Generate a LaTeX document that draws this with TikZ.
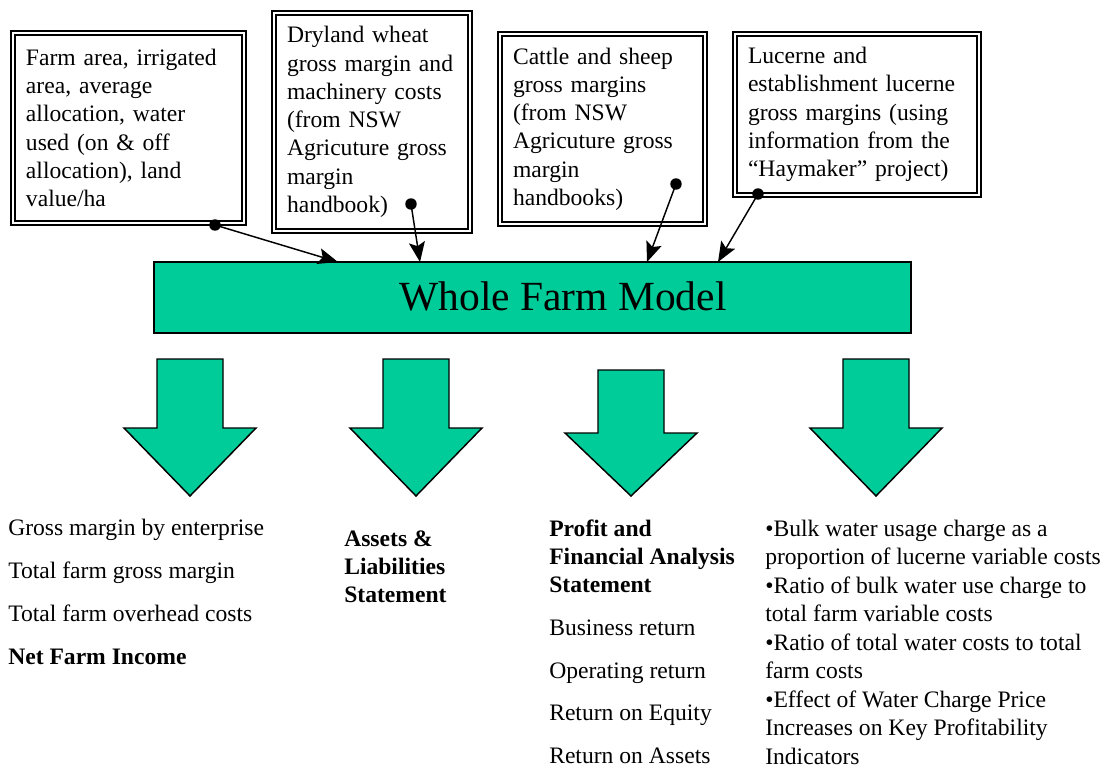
\documentclass[tikz,border=0pt]{standalone}
\usepackage{fontspec}
\setmainfont{Liberation Serif}
\usetikzlibrary{arrows.meta}
\definecolor{modelgreen}{RGB}{0,204,153}

\tikzset{
  txt/.style={font=\fontsize{17.7pt}{21.2pt}\selectfont},
  srcbox/.style={txt, draw=black, line width=1.05pt, double=white,
    double distance=1.7pt, fill=white, align=left,
    inner xsep=9.75pt, inner ysep=0pt},
  modelbox/.style={draw=black, line width=1.1pt, fill=modelgreen,
    inner sep=0pt},
  feed/.style={line width=1.1pt,
    -{Stealth[length=15pt,width=12pt,inset=3pt]}},
  dot/.style={fill=black},
  bigarrow/.style={draw=black, line width=1.1pt, fill=modelgreen,
    line join=miter},
  outtext/.style={txt, anchor=base west, inner sep=0pt},
  pics/fatdown/.style 2 args={code={
    \path[bigarrow] (-33,0) -- (33,0) -- (33,#1) -- (66,#1) -- (0,#2)
      -- (-66,#1) -- (-33,#1) -- cycle;}}
}

\begin{document}
\begin{tikzpicture}[x=0.75pt,y=-0.75pt]
\useasboundingbox (0,0) rectangle (1105,767);

% input boxes
\node[srcbox, minimum width=173.25pt, minimum height=142.5pt,
  text width=153.75pt] (src1) at (128.5,128)
  {Farm area, irrigated\\area, average\\allocation, water\\used (on \& off\\allocation), land\\value/ha};
\node[srcbox, minimum width=147pt, minimum height=163.5pt,
  text width=127.5pt] (src2) at (372,122)
  {Dryland wheat\\gross margin and\\machinery costs\\(from NSW\\Agricuture gross\\margin\\handbook)};
\node[srcbox, minimum width=153.75pt, minimum height=142.5pt,
  text width=134.25pt] (src3) at (602.5,129)
  {Cattle and sheep\\gross margins\\(from NSW\\Agricuture gross\\margin\\handbooks)};
\node[srcbox, minimum width=183pt, minimum height=120.75pt,
  text width=163.5pt] (src4) at (857,114.5)
  {Lucerne and\\establishment lucerne\\gross margins (using\\information from the\\“Haymaker” project)};

% central model
\node[modelbox, minimum width=567.75pt, minimum height=53.25pt] (model) at (532.5,297.5) {};
\node[font=\fontsize{31.1pt}{37pt}\selectfont, anchor=base, inner sep=0pt] (title) at (563,310) {Whole Farm Model};

% connectors from the input boxes
\coordinate (d1) at (215,225);  \coordinate (t1) at (338,262);
\coordinate (d2) at (411,204);  \coordinate (t2) at (420,262);
\coordinate (d3) at (676,184);  \coordinate (t3) at (647,262);
\coordinate (d4) at (758,194);  \coordinate (t4) at (718,262);
\foreach \i in {1,...,4}{
  \draw[feed] (d\i) -- (t\i);
  \fill[dot] (d\i) circle[radius=4.3pt];
}

% output arrows
\pic at (190,359) {fatdown={69}{137}};
\pic at (416,359) {fatdown={69}{137}};
\pic at (631,370) {fatdown={63}{126}};
\pic at (876,359) {fatdown={69}{137}};

% outputs: gross margins
\node[outtext] (g1) at (8,535) {Gross margin by enterprise};
\node[outtext] (g2) at (8,578) {Total farm gross margin};
\node[outtext] (g3) at (8,621) {Total farm overhead costs};
\node[outtext] (g4) at (8,664) {\textbf{Net Farm Income}};

% outputs: assets
\node[outtext] (a1) at (344,546) {\textbf{Assets \&}};
\node[outtext] (a2) at (344,574) {\textbf{Liabilities}};
\node[outtext] (a3) at (344,602) {\textbf{Statement}};

% outputs: profit and financial analysis
\node[outtext] (p1) at (549,536) {\textbf{Profit and}};
\node[outtext] (p2) at (549,564) {\textbf{Financial Analysis}};
\node[outtext] (p3) at (549,592) {\textbf{Statement}};
\node[outtext] (p4) at (549,635) {Business return};
\node[outtext] (p5) at (549,678) {Operating return};
\node[outtext] (p6) at (549,720) {Return on Equity};
\node[outtext] (p7) at (549,763) {Return on Assets};

% outputs: water cost indicators
\foreach \t [count=\k from 0] in {
  •Bulk water usage charge as a,
  proportion of lucerne variable costs,
  •Ratio of bulk water use charge to,
  total farm variable costs,
  •Ratio of total water costs to total,
  farm costs,
  •Effect of Water Charge Price,
  Increases on Key Profitability,
  Indicators}
  \node[outtext] (w\k) at (765,536+28.5*\k) {\t};
\end{tikzpicture}
\end{document}
